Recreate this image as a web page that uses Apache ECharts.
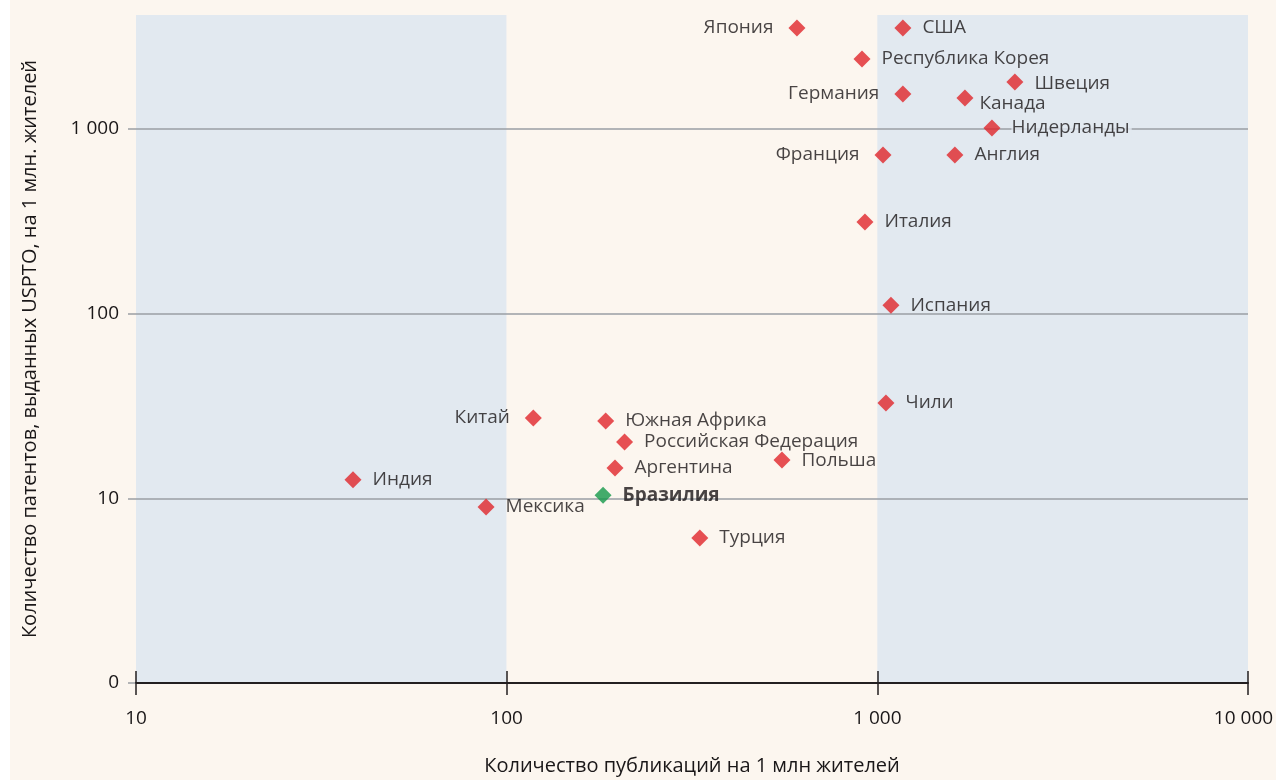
<!DOCTYPE html>
<html><head><meta charset="utf-8">
<script src="https://cdn.jsdelivr.net/npm/echarts@6/dist/echarts.min.js"></script>
<style>html,body{margin:0;padding:0;background:#fcf6ef}#c{width:1276px;height:780px}</style>
</head><body><div id="c"></div>
<script>
// Data
const countries = ['Япония','США','Республика Корея','Швеция','Германия','Канада','Нидерланды','Франция','Англия','Италия','Испания','Чили','Китай','Южная Африка','Российская Федерация','Аргентина','Польша','Индия','Бразилия','Мексика','Турция'];
const publications = [607,1172,909,2350,1172,1723,2038,1036,1619,926,1088,1055,118,185,208,196,553,38.5,182,88,332];
const patents = [3517,3517,2390,1795,1545,1470,1011,722,722,313,111,32.8,27.2,26.2,20.2,14.6,16.1,12.6,10.4,8.97,6.1];
const xTicks = [10,100,1000,10000];
const yTicks = [1,10,100,1000];
const xName = 'Количество публикаций на 1 млн жителей';
const yName = 'Количество патентов, выданных USPTO, на 1 млн. жителей';

const FONT = '"Open Sans", sans-serif';
const TXT = '#1a1718';
const BLUE = '#e2e9f0';
const CREAM = '#fcf6ef';
const leftLabelled = new Set(['Япония','Германия','Франция','Китай']);
const group = v => String(Math.round(v)).replace(/\B(?=(\d{3})+(?!\d))/g, ' ');
const fmtY = v => (v === 1 ? '0' : group(v));
const fmtX = v => (v >= 10000 ? '{r|' + group(v) + '}' : group(v));

const points = countries.map((n, i) => {
  const isBrazil = n === 'Бразилия';
  const left = leftLabelled.has(n);
  const lab = {
    show: true, formatter: n, position: left ? 'left' : 'right',
    distance: left ? 15 : 11, color: TXT, fontFamily: FONT, fontSize: 19,
    fontWeight: isBrazil ? 'bold' : 'normal'
  };
  if (n === 'Канада') { lab.offset = [0, 6]; lab.distance = 6; }
  if (n === 'Швеция') { lab.offset = [0, 2]; }
  if (n === 'Нидерланды') { lab.backgroundColor = BLUE; lab.padding = [0, 2, 0, 0]; }
  return {
    name: n, value: [publications[i], patents[i]],
    itemStyle: { color: isBrazil ? '#14984a' : '#e0252a' },
    label: lab
  };
});

const chart = echarts.init(document.getElementById('c'), null, { renderer: 'canvas' });
const xBase = {
  type: 'log', logBase: 10, min: 10, max: 10000, interval: 1, gridIndex: 0, position: 'bottom',
  splitLine: { show: false }
};
chart.setOption({
  backgroundColor: CREAM,
  animation: false,
  graphic: [{ type: 'rect', shape: { x: 0, y: 0, width: 10, height: 780 }, style: { fill: '#ffffff' }, z: 100 }],
  grid: { left: 136, right: 28, top: 15, bottom: 97, containLabel: false, outerBoundsMode: 'none' },
  xAxis: [
    Object.assign({}, xBase, {
      z: 2,
      name: xName, nameLocation: 'middle', nameGap: 73,
      nameTextStyle: { color: TXT, fontFamily: FONT, fontSize: 20 },
      axisLine: { show: true, lineStyle: { color: '#231f20', width: 2 } },
      axisTick: { show: true, inside: true, length: 12, lineStyle: { color: '#231f20', width: 1.5 } },
      axisLabel: { margin: 26, color: TXT, fontFamily: FONT, fontSize: 19, formatter: fmtX,
                   customValues: xTicks, hideOverlap: false,
                   rich: { r: { fontFamily: FONT, fontSize: 19, color: TXT, padding: [0, 9, 0, 0] } } }
    }),
    Object.assign({}, xBase, {
      z: 0,
      axisLine: { show: false },
      axisTick: { show: true, inside: false, length: 12, lineStyle: { color: '#231f20', width: 1.5 } },
      axisLabel: { show: false },
      splitArea: { show: true, areaStyle: { color: [BLUE, CREAM, BLUE] } }
    })
  ],
  yAxis: {
    type: 'log', logBase: 10, min: 1, max: 4137, interval: 1, z: 1,
    name: yName, nameLocation: 'middle', nameGap: 96,
    nameTextStyle: { color: TXT, fontFamily: FONT, fontSize: 20 },
    axisLine: { show: false },
    axisTick: { show: true, length: 8, lineStyle: { color: '#9a9ea4', width: 1.5 }, customValues: yTicks },
    axisLabel: { margin: 17, color: TXT, fontFamily: FONT, fontSize: 19, formatter: fmtY, customValues: yTicks },
    splitLine: { show: true, showMinLine: false, showMaxLine: true, lineStyle: { color: '#9a9ea4', width: 1.5 } }
  },
  series: [
    {
      type: 'scatter', symbol: 'diamond', symbolSize: 17, z: 3,
      data: points
    }
  ]
});
</script></body></html>
